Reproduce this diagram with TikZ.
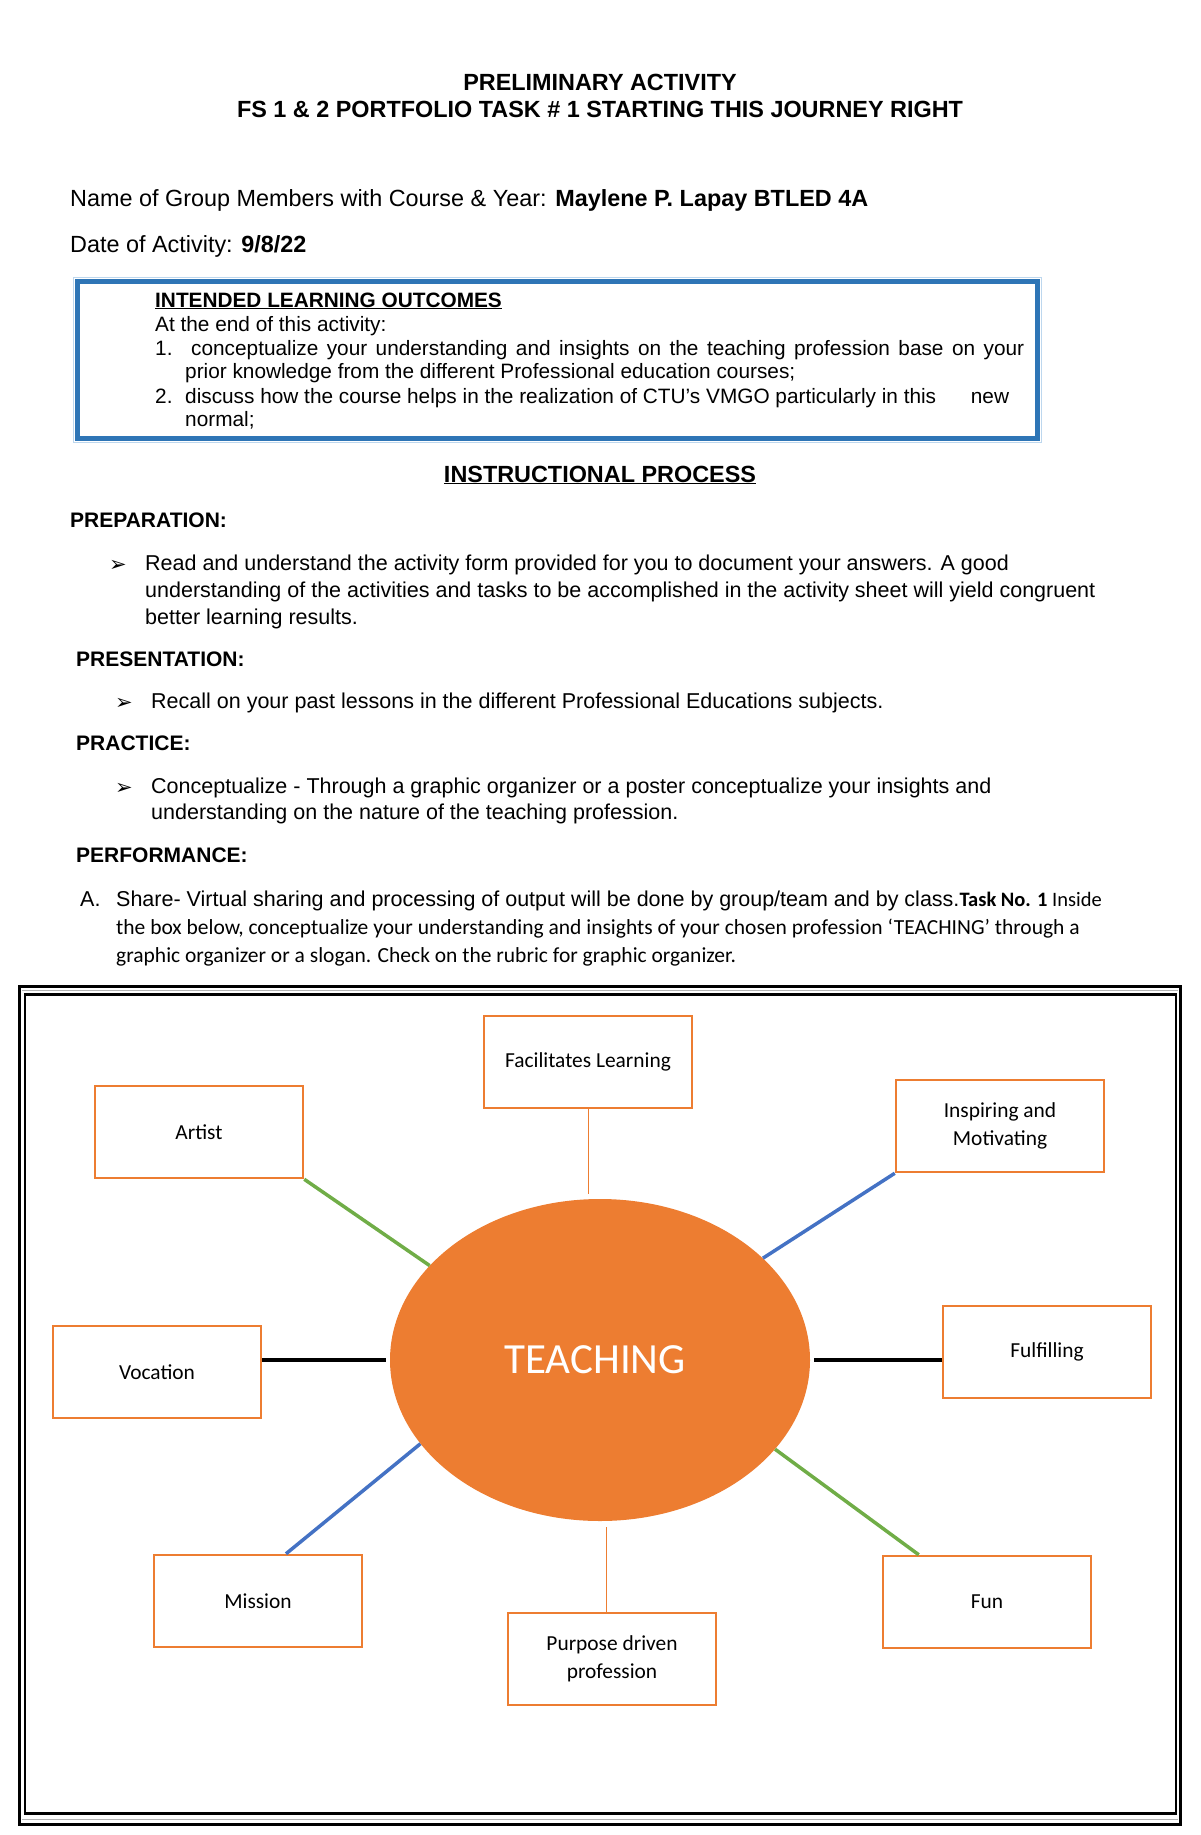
\documentclass[tikz,border=0pt]{standalone}
\usepackage{fontspec}
\setmainfont{Liberation Sans}
\newfontfamily\calibri{Carlito}
\newfontfamily\dingfont{DejaVu Sans}
\usepackage{xcolor}
\usetikzlibrary{shapes.geometric, positioning}
\definecolor{teachorange}{HTML}{ED7D31}
\definecolor{spokegreen}{HTML}{70AD47}
\definecolor{spokeblue}{HTML}{4472C4}
\definecolor{iloblue}{HTML}{2E75B6}
\definecolor{ilolight}{HTML}{BDD7EE}
\tikzstyle{toptxt} = [anchor=base, inner sep=0pt, font=\bfseries\fontsize{23.4}{27}\selectfont]
\tikzstyle{nametxt} = [anchor=base west, inner sep=0pt, font=\fontsize{23.4}{27}\selectfont]
\tikzstyle{ilo} = [anchor=base west, inner sep=0pt, font=\fontsize{20.8}{24}\selectfont]
\tikzstyle{hdr} = [anchor=base west, inner sep=0pt, font=\bfseries\fontsize{21}{27}\selectfont]
\tikzstyle{txt} = [anchor=base west, inner sep=0pt, font=\fontsize{21.5}{27}\selectfont]
\tikzstyle{cal} = [anchor=base west, inner sep=0pt, font=\calibri\fontsize{21.5}{28}\selectfont]
\tikzstyle{pointer} = [anchor=base west, inner sep=0pt, font=\dingfont\fontsize{21}{21}\selectfont]
\tikzstyle{idea} = [rectangle, draw=teachorange, line width=2.5pt, minimum width=208pt, minimum height=92pt, text centered, align=center, font=\calibri\fontsize{21.4}{28}\selectfont]
\tikzstyle{core} = [ellipse, fill=teachorange, minimum width=420pt, minimum height=322pt, inner sep=0pt, text=white, font=\calibri\fontsize{43}{43}\selectfont]
\tikzstyle{spoke} = [line width=3.5pt]
\tikzstyle{stem} = [draw=teachorange, line width=1pt]

\begin{document}
\begin{tikzpicture}[x=1pt, y=-1pt]
  \useasboundingbox (0,0) rectangle (1200,1835);
  % Header
  \node[toptxt] (title) at (600,91) {PRELIMINARY ACTIVITY};
  \node[toptxt] (subtitle) at (600,118) {FS 1 \& 2 PORTFOLIO TASK \# 1 STARTING THIS JOURNEY RIGHT};
  \node[nametxt] (members) at (70,207) {Name of Group Members with Course \& Year: \textbf{Maylene P. Lapay BTLED 4A}};
  \node[nametxt] (date) at (70,253) {Date of Activity: \textbf{9/8/22}};
  % Learning outcomes box
  \draw[ilolight, line width=1.2pt] (73.5,277.5) rectangle (1041.5,442.5);
  \draw[iloblue, line width=5pt] (77.5,281.5) rectangle (1037.5,438.5);
  \node[ilo, font=\bfseries\fontsize{20.8}{24}\selectfont] (ilohead) at (155,307) {\underline{INTENDED LEARNING OUTCOMES}};
  \node[ilo] (ilointro) at (155,331) {At the end of this activity:};
  \node[ilo] (ilonum1) at (155,355) {1.};
  \node[ilo] (iloone) at (191,355) {\hbox to 833pt{conceptualize your understanding and insights on the teaching profession base on your}};
  \node[ilo] (iloonecont) at (185,378) {prior knowledge from the different Professional education courses;};
  \node[ilo] (ilonum2) at (155,403) {2.};
  \node[ilo] (ilotwo) at (185,403) {\hbox to 824pt{discuss how the course helps in the realization of CTU’s VMGO particularly in this\hfill new}};
  \node[ilo] (ilotwocont) at (185,426) {normal;};
  % Instructional process
  \node[toptxt] (process) at (600,482) {\underline{INSTRUCTIONAL PROCESS}};
  \node[hdr] (prep) at (70,527) {PREPARATION:};
  \node[pointer] (prepmark) at (109,571) {➢};
  \node[txt] (prepa) at (145,570) {Read and understand the activity form provided for you to document your answers. A good};
  \node[txt] (prepb) at (145,597) {understanding of the activities and tasks to be accomplished in the activity sheet will yield congruent};
  \node[txt] (prepc) at (145,624) {better learning results.};
  \node[hdr] (pres) at (76,666) {PRESENTATION:};
  \node[pointer] (presmark) at (115,709) {➢};
  \node[txt] (presa) at (151,708) {Recall on your past lessons in the different Professional Educations subjects.};
  \node[hdr] (prac) at (76,750) {PRACTICE:};
  \node[pointer] (pracmark) at (115,794) {➢};
  \node[txt] (praca) at (151,793) {Conceptualize - Through a graphic organizer or a poster conceptualize your insights and};
  \node[txt] (pracb) at (151,819) {understanding on the nature of the teaching profession.};
  \node[hdr] (perf) at (76,862) {PERFORMANCE:};
  \node[txt] (perfmark) at (80,906) {A.};
  \node[txt] (perfa) at (116,906) {Share- Virtual sharing and processing of output will be done by group/team and by class.{\calibri\fontsize{20.5}{28}\selectfont\textbf{Task No. 1} Inside}};
  \node[cal] (perfb) at (116,934) {the box below, conceptualize your understanding and insights of your chosen profession ‘TEACHING’ through a};
  \node[cal] (perfc) at (116,962) {graphic organizer or a slogan. Check on the rubric for graphic organizer.};
  % Frame of the organizer
  \draw[line width=3pt] (19.5,986.5) rectangle (1180.5,1824.5);
  \draw[gray!60, line width=1.5pt] (22,990.5) -- (1178,990.5);
  \draw[gray!60, line width=1.5pt] (22,1819.5) -- (1178,1819.5);
  \draw[line width=2.5pt] (25,994.5) rectangle (1176,1813.5);
  % Graphic organizer
  \node[core] (teach) at (600,1360) {TEACHING\hspace*{10pt}};
  \node[idea] (facil) at (588,1062) {Facilitates Learning};
  \node[idea] (artist) at (199,1132) {Artist};
  \node[idea] (inspire) at (1000,1126) {Inspiring and\\Motivating};
  \node[idea] (vocation) at (157,1372) {Vocation};
  \node[idea] (fulfil) at (1047,1352) {Fulfilling};
  \node[idea] (mission) at (258,1601) {Mission};
  \node[idea] (purpose) at (612,1659) {Purpose driven\\profession};
  \node[idea] (fun) at (987,1602) {Fun};
  \draw[stem, shorten >=5pt] (facil.south) -- (facil.south |- teach.north);
  \draw[spoke, spokegreen] (artist.south east) -- (teach.151);
  \draw[spoke, spokeblue] (inspire.south west) -- (teach.32);
  \draw[spoke, line width=4.5pt, shorten >=4pt] (vocation.east |- teach.west) -- (teach.west);
  \draw[spoke, line width=4.5pt, shorten <=4pt] (teach.east) -- (teach.east -| fulfil.west);
  \draw[spoke, spokeblue] ([xshift=28pt]mission.north) -- (teach.205);
  \draw[stem, shorten <=6pt] ([xshift=6pt]teach.south) -- ([xshift=6pt]teach.south |- purpose.north);
  \draw[spoke, spokegreen] ([xshift=37pt]fun.north west) -- (teach.333);
\end{tikzpicture}
\end{document}
